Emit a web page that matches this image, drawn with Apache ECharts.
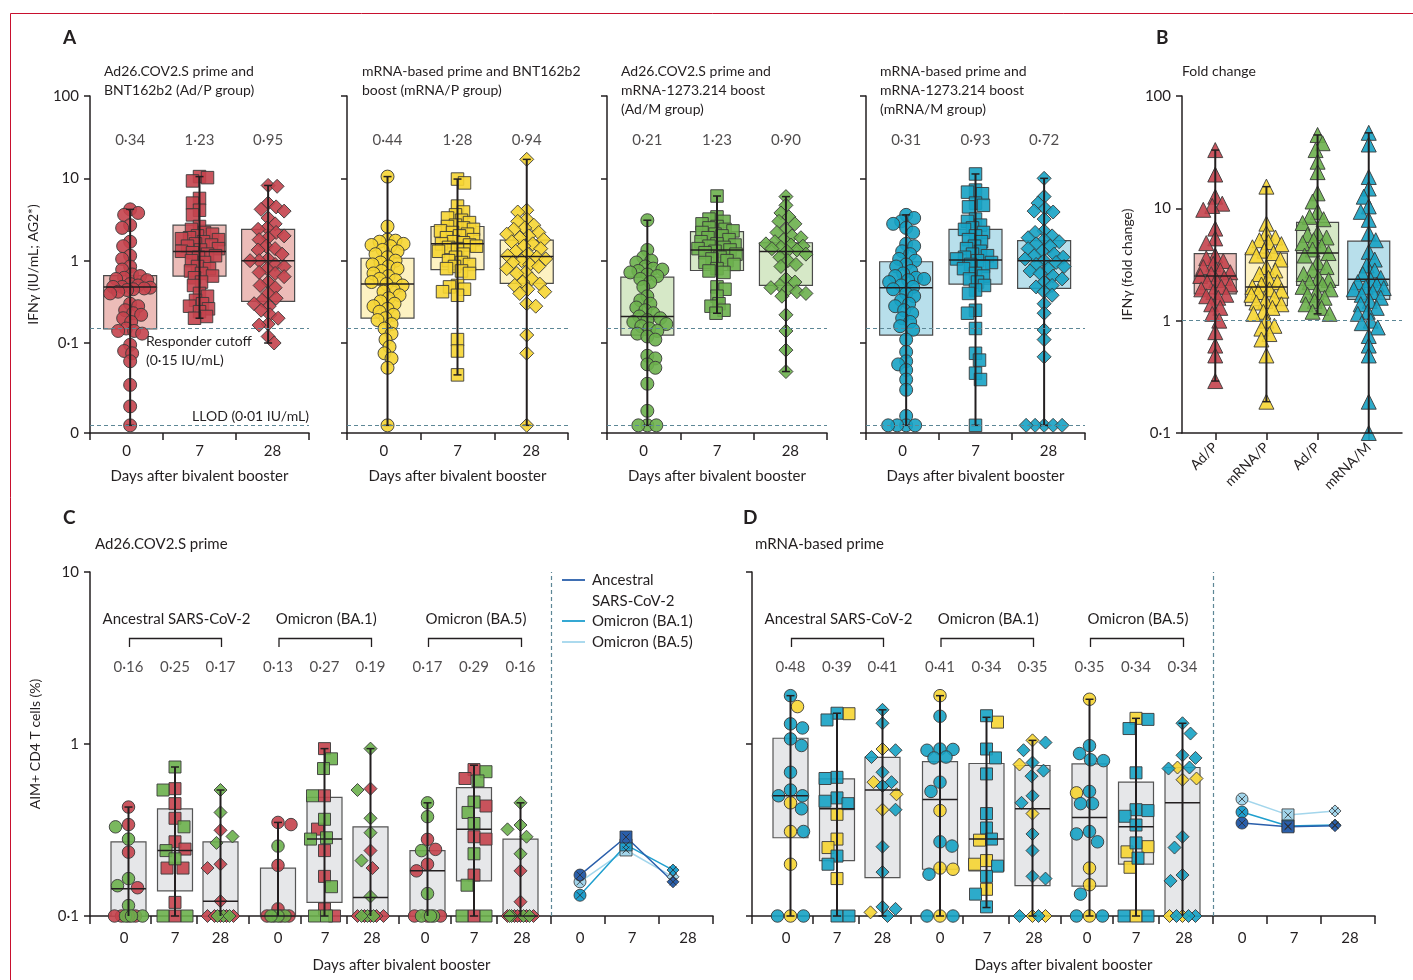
<!DOCTYPE html>
<html><head><meta charset="utf-8">
<script src="https://cdn.jsdelivr.net/npm/echarts@6/dist/echarts.min.js"></script>
<style>html,body{margin:0;padding:0;background:#fff}#c{width:1413px;height:980px}</style>
</head><body><div id="c"></div>
<script>
// ---------------- DATA ----------------
const days = ['0', '7', '28'];
// Panel A: IFN-gamma (IU/mL) per participant, days 0 / 7 / 28
const adP_d0 = [4.2,3.8,3.6,2.7,2.5,1.7,1.5,1.15,1.05,0.85,0.78,0.68,0.65,0.62,0.6,0.58,0.52,0.5,0.48,0.48,0.47,0.46,0.45,0.44,0.42,0.4,0.3,0.28,0.25,0.23,0.22,0.2,0.18,0.15,0.14,0.14,0.13,0.095,0.08,0.075,0.06,0.031,0.017,0.01];
const adP_d7 = [10.5,10.2,9.3,5.7,5.0,4.1,3.6,2.6,2.4,2.2,2.1,2.0,1.9,1.85,1.8,1.7,1.6,1.55,1.5,1.4,1.35,1.3,1.25,1.2,1.15,1.1,1.0,0.95,0.85,0.8,0.75,0.7,0.65,0.62,0.55,0.5,0.4,0.37,0.33,0.3,0.28,0.26,0.24,0.21,0.2];
const adP_d28 = [8.2,8.0,5.0,4.5,4.2,4.0,3.3,2.8,2.5,2.4,2.2,2.0,1.9,1.8,1.5,1.4,1.35,1.2,1.05,1.0,1.0,0.9,0.85,0.8,0.72,0.7,0.64,0.55,0.5,0.47,0.4,0.35,0.33,0.3,0.28,0.25,0.22,0.2,0.17,0.165,0.12,0.1];
const mrnaP_d0 = [10.5,2.6,1.8,1.75,1.7,1.6,1.55,1.5,1.35,1.3,1.2,1.1,1.0,0.95,0.9,0.85,0.8,0.75,0.7,0.65,0.6,0.58,0.55,0.52,0.5,0.45,0.42,0.38,0.35,0.32,0.3,0.28,0.26,0.24,0.22,0.2,0.19,0.17,0.15,0.13,0.11,0.09,0.075,0.065,0.05,0.01];
const mrnaP_d7 = [9.8,8.8,4.6,3.9,3.6,3.3,3.1,2.9,2.7,2.6,2.5,2.4,2.3,2.2,2.1,2.0,1.9,1.8,1.7,1.65,1.6,1.55,1.5,1.45,1.4,1.3,1.2,1.1,1.0,0.95,0.9,0.85,0.8,0.75,0.7,0.5,0.48,0.45,0.42,0.38,0.11,0.08,0.041];
const mrnaP_d28 = [17,4.1,3.9,3.2,3.0,2.7,2.5,2.4,2.2,2.1,2.0,1.9,1.8,1.7,1.6,1.5,1.4,1.3,1.2,1.15,1.1,1.05,1.0,0.95,0.9,0.85,0.8,0.72,0.7,0.6,0.55,0.52,0.5,0.45,0.42,0.4,0.3,0.28,0.125,0.075,0.01];
const adM_d0 = [3.1,1.35,1.1,1.0,0.95,0.85,0.8,0.78,0.75,0.72,0.68,0.65,0.6,0.55,0.48,0.37,0.33,0.3,0.27,0.25,0.23,0.21,0.2,0.19,0.18,0.17,0.16,0.15,0.14,0.13,0.12,0.11,0.07,0.065,0.055,0.05,0.032,0.015,0.01,0.01,0.01];
const adM_d7 = [6.1,3.4,3.2,3.0,2.8,2.6,2.5,2.4,2.3,2.2,2.1,2.0,1.9,1.8,1.7,1.6,1.55,1.5,1.45,1.4,1.35,1.3,1.25,1.2,1.1,1.05,1.0,0.95,0.9,0.8,0.75,0.72,0.48,0.45,0.37,0.3,0.28,0.25,0.23];
const adM_d28 = [6.0,4.7,3.8,3.4,3.0,2.8,2.4,2.2,2.0,1.9,1.8,1.7,1.6,1.55,1.5,1.45,1.4,1.35,1.3,1.2,1.1,1.0,0.9,0.85,0.6,0.55,0.5,0.47,0.45,0.42,0.4,0.37,0.22,0.14,0.082,0.045];
const mrnaM_d0 = [3.6,3.3,3.0,2.8,2.5,2.2,1.6,1.5,1.3,1.2,1.05,1.0,0.9,0.85,0.75,0.7,0.65,0.62,0.6,0.58,0.55,0.5,0.48,0.45,0.4,0.37,0.33,0.3,0.28,0.25,0.23,0.2,0.18,0.16,0.145,0.11,0.078,0.06,0.055,0.047,0.036,0.027,0.013,0.01,0.01,0.01,0.01];
const mrnaM_d7 = [11.3,7.2,6.8,6.5,5.0,4.7,4.5,3.2,3.0,2.7,2.5,2.4,2.2,2.0,1.8,1.7,1.5,1.4,1.3,1.2,1.15,1.1,1.05,1.0,0.95,0.9,0.85,0.8,0.7,0.65,0.6,0.55,0.5,0.44,0.4,0.25,0.23,0.15,0.075,0.062,0.043,0.036,0.01];
const mrnaM_d28 = [10,6.0,5.0,4.3,4.0,3.9,3.2,2.3,2.2,2.0,1.9,1.8,1.7,1.6,1.5,1.4,1.3,1.2,1.15,1.1,1.05,1.0,0.95,0.9,0.85,0.8,0.75,0.7,0.65,0.6,0.55,0.5,0.48,0.42,0.38,0.3,0.23,0.144,0.11,0.068,0.01,0.01,0.01,0.01,0.01];
// box stats [min, q1, median, q3, max]
const adP_box = [[0.01,0.148,0.48,0.66,4.2],[0.2,0.65,1.29,2.7,10.5],[0.1,0.32,1.0,2.4,8.2]];
const mrnaP_box = [[0.01,0.2,0.52,1.07,10.5],[0.041,0.78,1.6,2.6,9.8],[0.01,0.53,1.12,1.78,17]];
const adM_box = [[0.01,0.125,0.21,0.63,3.1],[0.23,0.76,1.35,2.25,6.1],[0.045,0.5,1.29,1.65,6.0]];
const mrnaM_box = [[0.01,0.125,0.47,0.97,3.6],[0.01,0.52,1.02,2.4,11.3],[0.01,0.46,1.0,1.75,10]];
const adP_med = [0.34, 1.23, 0.95];
const mrnaP_med = [0.44, 1.28, 0.94];
const adM_med = [0.21, 1.23, 0.90];
const mrnaM_med = [0.31, 0.93, 0.72];
const cutoff = 0.15, llod = 0.01;

// Panel B: fold change
const foldCats = ['Ad/P', 'mRNA/P', 'Ad/P', 'mRNA/M'];
const fold_adP = [33,20,12.7,11,10.5,9.7,6.6,5.4,4.9,3.8,3.6,3.4,3.2,3.0,2.8,2.7,2.6,2.5,2.4,2.3,2.2,2.1,2.0,1.9,1.8,1.7,1.65,1.6,1.4,1.3,1.15,1.0,0.79,0.6,0.49,0.29];
const fold_mrnaP = [15.6,7.3,6.0,5.5,5.2,5.0,4.8,4.5,4.2,4.0,3.8,3.5,3.0,2.8,2.6,2.4,2.2,2.1,2.0,1.9,1.85,1.8,1.7,1.6,1.5,1.45,1.4,1.3,1.2,1.15,1.0,0.9,0.85,0.76,0.68,0.49,0.19];
const fold_adM = [45,38,33,26,21,13.6,11.5,9.3,8.4,8.0,7.4,6.0,5.8,5.5,5.2,4.9,4.6,4.3,4.0,3.8,3.3,3.0,2.8,2.6,2.4,2.3,2.2,2.1,2.0,1.9,1.8,1.7,1.6,1.5,1.4,1.3,1.2,1.15];
const fold_mrnaM = [47,37,19,15,12.7,10.4,9.3,7.9,6.0,5.2,4.1,3.5,3.1,2.8,2.6,2.4,2.3,2.2,2.1,2.0,1.95,1.9,1.8,1.7,1.6,1.5,1.4,1.3,1.2,1.15,1.0,0.95,0.87,0.73,0.6,0.49,0.19,0.1];
const fold_box = [[0.29,1.73,2.5,3.96,33],[0.19,1.36,1.99,4.0,15.6],[1.15,2.06,4.0,7.5,45],[0.1,1.55,2.34,5.1,47]];

// Panels C/D: AIM+ CD4 T cells (%) per variant set, [day0, day7, day28]
const variantNames = ['Ancestral SARS-CoV-2', 'Omicron (BA.1)', 'Omicron (BA.5)'];
const c_anc_red = [[0.43,0.34,0.235,0.146,0.1,0.1,0.1,0.1],[0.55,0.45,0.37,0.27,0.245,0.19,0.19,0.12,0.1],[0.315,0.2,0.19,0.122,0.1,0.1,0.1,0.1,0.1]];
const c_anc_grn = [[0.33,0.28,0.165,0.15,0.115,0.1,0.1,0.1],[0.735,0.54,0.33,0.24,0.215,0.1,0.1],[0.54,0.40,0.29,0.266,0.1,0.1,0.1]];
const c_ba1_red = [[0.35,0.34,0.197,0.11,0.1,0.1,0.1],[0.94,0.5,0.32,0.24,0.17,0.11,0.1],[0.55,0.24,0.19,0.1,0.1,0.1,0.1,0.1]];
const c_ba1_grn = [[0.255,0.1,0.1,0.1,0.1],[0.82,0.72,0.5,0.365,0.285,0.28,0.148,0.1,0.1],[0.94,0.54,0.37,0.305,0.21,0.13,0.1,0.1,0.1]];
const c_ba5_red = [[0.279,0.244,0.2,0.183,0.1,0.1,0.1],[0.71,0.63,0.436,0.289,0.28,0.173,0.1],[0.183,0.121,0.1,0.1,0.1,0.1,0.1,0.1]];
const c_ba5_grn = [[0.455,0.378,0.24,0.135,0.1,0.1,0.1],[0.69,0.61,0.46,0.40,0.345,0.23,0.151,0.1,0.1],[0.455,0.338,0.319,0.289,0.23,0.1,0.1,0.1,0.1]];
const c_box = [[0.1,0.1,0.144,0.27,0.43],[0.1,0.14,0.24,0.42,0.735],[0.1,0.1,0.122,0.27,0.54],[0.1,0.1,0.1,0.19,0.35],[0.1,0.12,0.28,0.49,0.94],[0.1,0.1,0.128,0.33,0.94],[0.1,0.1,0.183,0.24,0.455],[0.1,0.16,0.319,0.557,0.753],[0.1,0.1,0.1,0.28,0.455]];
const c_med = [0.16,0.25,0.17,0.13,0.27,0.19,0.17,0.29,0.16];
const c_mean_anc = [0.173,0.288,0.158];
const c_mean_ba1 = [0.132,0.259,0.185];
const c_mean_ba5 = [0.158,0.242,0.169];

const d_anc_teal = [[1.91,1.31,1.24,1.07,0.98,0.685,0.54,0.5,0.5,0.42,0.31,0.1,0.1],[1.51,1.38,0.64,0.63,0.486,0.465,0.45,0.223,0.2,0.1,0.1],[1.58,1.32,0.92,0.84,0.685,0.6,0.57,0.415,0.253,0.18,0.113,0.11,0.1]];
const d_anc_yel = [[1.65,0.455,0.31,0.2,0.1],[1.5,0.39,0.28,0.25,0.165],[0.935,0.6,0.51,0.415,0.105]];
const d_ba1_teal = [[1.45,0.935,0.93,0.92,0.84,0.83,0.6,0.53,0.27,0.255,0.175,0.1,0.1],[1.46,0.935,0.83,0.67,0.394,0.325,0.28,0.195,0.17,0.134,0.113],[1.02,0.92,0.78,0.7,0.65,0.5,0.455,0.3,0.24,0.17,0.165,0.1,0.1]];
const d_ba1_yel = [[1.91,0.41,0.19,0.187,0.1],[1.34,0.276,0.21,0.2,0.143],[1.05,0.76,0.394,0.1,0.1]];
const d_ba5_teal = [[0.978,0.88,0.81,0.8,0.53,0.45,0.45,0.31,0.3,0.27,0.134,0.1,0.1],[1.39,1.23,0.68,0.415,0.41,0.38,0.338,0.266,0.217,0.1,0.1],[1.32,1.15,0.86,0.83,0.73,0.72,0.289,0.25,0.173,0.16,0.1,0.1,0.1]];
const d_ba5_yel = [[1.82,0.52,0.19,0.152,0.1],[1.41,0.253,0.236,0.192,0.1],[0.73,0.63,0.62,0.1,0.1]];
const d_box = [[0.1,0.285,0.50,1.08,1.91],[0.1,0.21,0.42,0.627,1.51],[0.1,0.167,0.54,0.837,1.58],[0.1,0.187,0.475,0.79,1.91],[0.112,0.183,0.28,0.77,1.43],[0.1,0.15,0.42,0.75,1.05],[0.1,0.149,0.374,0.766,1.82],[0.1,0.2,0.33,0.6,1.41],[0.1,0.1,0.455,0.73,1.32]];
const d_med = [0.48,0.39,0.41,0.41,0.34,0.35,0.35,0.34,0.34];
const d_mean_anc = [0.347,0.330,0.335];
const d_mean_ba1 = [0.402,0.334,0.338];
const d_mean_ba5 = [0.479,0.387,0.408];

// ---------------- STYLE / LAYOUT ----------------
const FONT = 'Lato';
const TXT = '#231f20';
const DASH = '#5d8796';
const PT_BORDER = '#3a3a3a';
const RED = '#c4424c', RED_BOX = '#ecbcb8';
const YEL = '#f6d532', YEL_BOX = '#fdf2c2';
const GRN = '#6cb04d', GRN_BOX = '#d6e8c7';
const TEAL = '#16a2c4', TEAL_BOX = '#b8dfeb';
const GRAY_BOX = '#e6e7e9';
const C_ANC = '#2a5fab', C_BA1 = '#1f9fce', C_BA5 = '#a3d6ec';
const SYMS = ['circle', 'rect', 'diamond'];
const L10 = v => Math.log10(v);
const dot = v => v.toFixed(2).replace('.', '\u00b7');

const A_YMIN = -2.093;
const metaA = [
  {left: 90, width: 219}, {left: 347, width: 221}, {left: 607, width: 220}, {left: 866, width: 219}
].map(m => Object.assign(m, {top: 96, height: 337, xmin: -0.5, xmax: 2.5, ymin: A_YMIN, ymax: 2}));
const metaB = {left: 1182, width: 220, top: 96, height: 337, xmin: -0.65, xmax: 3.65, ymin: -1, ymax: 2};
const metaC = {left: 90, width: 623, top: 572, height: 344, xmin: 0, xmax: 623, ymin: -1, ymax: 1};
const metaD = {left: 752, width: 623, top: 572, height: 344, xmin: 0, xmax: 623, ymin: -1, ymax: 1};
const aPos = [0.05, 1, 1.94];
const cdPos = [38.5, 85, 130.5, 188, 234.5, 280.5, 337.5, 384, 430.5];
const cdMeanPos = [490, 536, 583];
const cdTicks = [0, 61, 107, 159, 211, 257, 309, 361, 407, 461, 515, 569, 623];
const cdLabelPos = [34, 85, 130.5, 188, 235, 282, 335, 384, 432, 490, 542, 598];
const cdSep = 461;

function yPx(m, v) { return m.top + m.height * (m.ymax - v) / (m.ymax - m.ymin); }

// beeswarm layout (pixel space) -> x offsets
function swarm(ys, maxOff, d) {
  const idx = ys.map((y, i) => i).sort((a, b) => ys[a] - ys[b]);
  const off = new Array(ys.length).fill(0);
  const placed = [];
  idx.forEach((i, k) => {
    const y = ys[i];
    let best = 0, bestD = -1, found = false;
    for (let s = 0; s <= maxOff && !found; s += 1) {
      const signs = s === 0 ? [1] : (k % 2 ? [1, -1] : [-1, 1]);
      for (const sg of signs) {
        const o = s * sg;
        let mn = Infinity;
        for (const p of placed) {
          const dy = p[1] - y;
          if (Math.abs(dy) >= d) continue;
          const dd = Math.hypot(p[0] - o, dy);
          if (dd < mn) mn = dd;
        }
        if (mn >= d) { best = o; found = true; break; }
        if (mn > bestD) { bestD = mn; best = o; }
      }
    }
    off[i] = best;
    placed.push([best, y]);
  });
  return off;
}

const series = [];
const grids = [], xAxes = [], yAxes = [];
const axisLine = {show: true, onZero: false, lineStyle: {color: TXT, width: 1.5}};
const tickStyle = {color: TXT, width: 1.5};

// add scatter points of one group (several colours share one swarm)
function addPoints(gi, m, pos, groups, sym, size, maxOff, fac) {
  const items = [];
  groups.forEach(g => g.vals.forEach(v => items.push({v: L10(v), color: g.color})));
  const ys = items.map(it => yPx(m, it.v));
  const offs = swarm(ys, maxOff, size * fac);
  const ppu = m.width / (m.xmax - m.xmin);
  groups.forEach(g => {
    const data = [];
    items.forEach((it, i) => { if (it.color === g.color) data.push([pos + offs[i] / ppu, it.v]); });
    series.push({
      type: 'scatter', xAxisIndex: gi, yAxisIndex: gi, symbol: sym, symbolSize: size,
      data, clip: false, silent: true, z: 3,
      itemStyle: {color: g.color, borderColor: PT_BORDER, borderWidth: 1, opacity: 0.9}
    });
  });
}

function addBoxes(gi, positions, stats, fills, widthPx, stroke) {
  const data = stats.map((s, i) => [positions[i]].concat(s.map(L10)));
  series.push({
    type: 'custom', xAxisIndex: gi, yAxisIndex: gi, z: 1, silent: true, clip: false,
    data, encode: {x: 0, y: [1, 2, 3, 4, 5]},
    renderItem(params, api) {
      const x = api.value(0);
      const q1 = api.coord([x, api.value(2)]), q3 = api.coord([x, api.value(4)]);
      return {type: 'rect', shape: {x: q1[0] - widthPx / 2, y: q3[1], width: widthPx, height: q1[1] - q3[1]},
        style: {fill: fills[params.dataIndex], stroke: stroke, lineWidth: 1.2}};
    }
  });
  series.push({
    type: 'custom', xAxisIndex: gi, yAxisIndex: gi, z: 4, silent: true, clip: false,
    data, encode: {x: 0, y: [1, 2, 3, 4, 5]},
    renderItem(params, api) {
      const x = api.value(0);
      const p = [1, 2, 3, 4, 5].map(i => api.coord([x, api.value(i)]));
      const cx = p[0][0];
      const ch = [];
      if (p[0][1] - p[4][1] > 0.5) {
        ch.push({type: 'line', shape: {x1: cx, y1: p[4][1], x2: cx, y2: p[0][1]}, style: {stroke: TXT, lineWidth: 2}});
      }
      if (p[0][1] - p[1][1] > 0.5) {
        ch.push({type: 'line', shape: {x1: cx - 4, y1: p[0][1], x2: cx + 4, y2: p[0][1]}, style: {stroke: TXT, lineWidth: 1.5}});
      }
      if (p[3][1] - p[4][1] > 0.5) {
        ch.push({type: 'line', shape: {x1: cx - 4, y1: p[4][1], x2: cx + 4, y2: p[4][1]}, style: {stroke: TXT, lineWidth: 1.5}});
      }
      ch.push({type: 'line', shape: {x1: cx - widthPx / 2, y1: p[2][1], x2: cx + widthPx / 2, y2: p[2][1]}, style: {stroke: TXT, lineWidth: 1.5}});
      return {type: 'group', children: ch};
    }
  });
}

function addLabels(gi, positions, values, yLog) {
  series.push({
    type: 'scatter', xAxisIndex: gi, yAxisIndex: gi, symbolSize: 0, silent: true, z: 5, clip: false,
    data: values.map((v, i) => [positions[i], yLog, v]),
    label: {show: true, position: 'inside', formatter: p => dot(p.value[2]), fontSize: 15, color: TXT, fontFamily: FONT}
  });
}

function dashMarkLine(items) {
  return {symbol: ['none', 'none'], silent: true, label: {show: false},
    lineStyle: {type: [4, 3], color: DASH, width: 1.2}, data: items};
}

// ---------- Panel A ----------
const aGroups = [
  {d: [adP_d0, adP_d7, adP_d28], box: adP_box, med: adP_med, color: RED, fill: RED_BOX},
  {d: [mrnaP_d0, mrnaP_d7, mrnaP_d28], box: mrnaP_box, med: mrnaP_med, color: YEL, fill: YEL_BOX},
  {d: [adM_d0, adM_d7, adM_d28], box: adM_box, med: adM_med, color: GRN, fill: GRN_BOX},
  {d: [mrnaM_d0, mrnaM_d7, mrnaM_d28], box: mrnaM_box, med: mrnaM_med, color: TEAL, fill: TEAL_BOX}
];
const aYLabel = v => (v < -1.5 ? '0' : ({'-1': '0\u00b71', '0': '1', '1': '10', '2': '100'})[Math.round(v)]);
metaA.forEach((m, i) => {
  grids.push({left: m.left, top: m.top, width: m.width, height: m.height});
  xAxes.push({gridIndex: i, type: 'value', min: m.xmin, max: m.xmax,
    axisLine, axisTick: {show: true, customValues: [-0.5, 0.5, 1.5, 2.5], length: 7, lineStyle: tickStyle},
    axisLabel: {customValues: [0, 1, 2], formatter: v => days[Math.round(v)], margin: 11, fontSize: 15, color: TXT},
    splitLine: {show: false}, name: 'Days after bivalent booster', nameLocation: 'middle', nameGap: 36,
    nameTextStyle: {fontSize: 15, color: TXT}});
  yAxes.push({gridIndex: i, type: 'value', min: m.ymin, max: m.ymax,
    axisLine, axisTick: {show: true, customValues: [A_YMIN, -1, 0, 1, 2], length: 6, lineStyle: tickStyle},
    axisLabel: {show: i === 0, customValues: [A_YMIN, -1, 0, 1, 2], formatter: aYLabel, margin: 11, fontSize: 15, color: TXT},
    splitLine: {show: false}, name: i === 0 ? 'IFN\u03b3 (IU/mL; AG2*)' : '', nameLocation: 'middle', nameGap: 50,
    nameTextStyle: {fontSize: 14, color: TXT}});
  const g = aGroups[i];
  addBoxes(i, aPos, g.box, [g.fill, g.fill, g.fill], 53, '#4a4a4a');
  g.d.forEach((vals, k) => addPoints(i, m, aPos[k], [{vals, color: g.color}], SYMS[k],
    k === 0 ? 13 : (k === 1 ? 12.5 : 14), k === 1 ? 19 : 20, 0.62));
  series[series.length - 1].markLine = dashMarkLine([{yAxis: L10(cutoff)}, {yAxis: L10(llod)}]);
  addLabels(i, aPos, g.med, 1.466);
});

// ---------- Panel B ----------
{
  const gi = grids.length;
  const m = metaB;
  grids.push({left: m.left, top: m.top, width: m.width, height: m.height});
  xAxes.push({gridIndex: gi, type: 'value', min: m.xmin, max: m.xmax, axisLine,
    axisTick: {show: true, customValues: [0, 1, 2, 3], length: 7, lineStyle: tickStyle},
    axisLabel: {customValues: [0, 1, 2, 3], formatter: v => foldCats[Math.round(v)], rotate: 45, margin: 12, fontSize: 14, color: TXT},
    splitLine: {show: false}});
  yAxes.push({gridIndex: gi, type: 'value', min: -1, max: 2, axisLine,
    axisTick: {show: true, customValues: [-1, 0, 1, 2], length: 6, lineStyle: tickStyle},
    axisLabel: {customValues: [-1, 0, 1, 2], formatter: v => ({'-1': '0\u00b71', '0': '1', '1': '10', '2': '100'})[Math.round(v)], margin: 11, fontSize: 15, color: TXT},
    splitLine: {show: false}, name: 'IFN\u03b3 (fold change)', nameLocation: 'middle', nameGap: 48,
    nameTextStyle: {fontSize: 14, color: TXT}});
  const bPos = [0, 1, 2, 3];
  addBoxes(gi, bPos, fold_box, [RED_BOX, YEL_BOX, GRN_BOX, TEAL_BOX], 42, '#4a4a4a');
  [[fold_adP, RED], [fold_mrnaP, YEL], [fold_adM, GRN], [fold_mrnaM, TEAL]].forEach((g, k) =>
    addPoints(gi, m, bPos[k], [{vals: g[0], color: g[1]}], 'triangle', 15, 15, 0.62));
  series[series.length - 1].markLine = dashMarkLine([{yAxis: 0}]);
}

// ---------- Panels C & D ----------
function buildCD(m, sets, colors, boxes, meds, means, showYLabels, yName) {
  const gi = grids.length;
  grids.push({left: m.left, top: m.top, width: m.width, height: m.height});
  xAxes.push({gridIndex: gi, type: 'value', min: m.xmin, max: m.xmax, axisLine,
    axisTick: {show: true, customValues: cdTicks, length: 8, lineStyle: tickStyle},
    axisLabel: {customValues: cdLabelPos, formatter: v => days[cdLabelPos.indexOf(v) % 3], margin: 15, fontSize: 15, color: TXT},
    splitLine: {show: false}, name: 'Days after bivalent booster', nameLocation: 'middle', nameGap: 42,
    nameTextStyle: {fontSize: 15, color: TXT}});
  yAxes.push({gridIndex: gi, type: 'value', min: -1, max: 1, axisLine,
    axisTick: {show: true, customValues: [-1, 0, 1], length: 6, lineStyle: tickStyle},
    axisLabel: {show: showYLabels, customValues: [-1, 0, 1], formatter: v => ({'-1': '0\u00b71', '0': '1', '1': '10'})[Math.round(v)], margin: 11, fontSize: 15, color: TXT},
    splitLine: {show: false}, name: yName, nameLocation: 'middle', nameGap: 48,
    nameTextStyle: {fontSize: 14, color: TXT}});
  addBoxes(gi, cdPos, boxes, boxes.map(() => GRAY_BOX), 35, '#555');
  sets.forEach((set, s) => {
    for (let k = 0; k < 3; k++) {
      addPoints(gi, m, cdPos[s * 3 + k],
        [{vals: set[0][k], color: colors[0]}, {vals: set[1][k], color: colors[1]}],
        SYMS[k], k === 0 ? 12.5 : (k === 1 ? 12 : 13), 14, 1.0);
    }
  });
  series[series.length - 1].markLine = dashMarkLine([{xAxis: cdSep}]);
  addLabels(gi, cdPos, meds, 0.448);
  // means (right section)
  [[means[2], C_BA5], [means[1], C_BA1], [means[0], C_ANC]].forEach(([vals, col]) => {
    series.push({type: 'line', xAxisIndex: gi, yAxisIndex: gi, z: 5, silent: true, showAllSymbol: true,
      symbolSize: 12, lineStyle: {color: col, width: 1.5},
      itemStyle: {color: col, borderColor: '#333', borderWidth: 0.8},
      data: vals.map((v, i) => ({value: [cdMeanPos[i], L10(v)], symbol: SYMS[i]}))});
    series.push({type: 'scatter', xAxisIndex: gi, yAxisIndex: gi, z: 6, silent: true,
      symbol: 'path://M0 0L10 10M10 0L0 10', symbolSize: 7,
      itemStyle: {color: 'none', borderColor: '#2a2a2a', borderWidth: 1},
      data: vals.map((v, i) => [cdMeanPos[i], L10(v)])});
  });
}
buildCD(metaC, [[c_anc_red, c_anc_grn], [c_ba1_red, c_ba1_grn], [c_ba5_red, c_ba5_grn]], [RED, GRN],
  c_box, c_med, [c_mean_anc, c_mean_ba1, c_mean_ba5], true, 'AIM+ CD4 T cells (%)');
buildCD(metaD, [[d_anc_yel, d_anc_teal], [d_ba1_yel, d_ba1_teal], [d_ba5_yel, d_ba5_teal]], [YEL, TEAL],
  d_box, d_med, [d_mean_anc, d_mean_ba1, d_mean_ba5], false, '');

// ---------- Graphic annotations ----------
const tstyle = (text, x, y, extra) => ({type: 'text', x, y, silent: true,
  style: Object.assign({text, fill: TXT, fontFamily: FONT, fontSize: 14, lineHeight: 19, textVerticalAlign: 'top'}, extra || {})});
const graphic = [
  {type: 'rect', shape: {x: 10.5, y: 13.5, width: 1440, height: 1000}, style: {fill: 'none', stroke: '#c8102e', lineWidth: 1}, silent: true},
  tstyle('A', 63, 28, {fontSize: 19, fontWeight: 'bold'}),
  tstyle('B', 1156, 28, {fontSize: 19, fontWeight: 'bold'}),
  tstyle('C', 63, 508, {fontSize: 19, fontWeight: 'bold'}),
  tstyle('D', 743, 508, {fontSize: 19, fontWeight: 'bold'}),
  tstyle('Ad26.COV2.S prime and\nBNT162b2 (Ad/P group)', 104, 62),
  tstyle('mRNA-based prime and BNT162b2\nboost (mRNA/P group)', 362, 62),
  tstyle('Ad26.COV2.S prime and\nmRNA-1273.214 boost\n(Ad/M group)', 621, 62),
  tstyle('mRNA-based prime and\nmRNA-1273.214 boost\n(mRNA/M group)', 880, 62),
  tstyle('Fold change', 1182, 62),
  tstyle('Responder cutoff\n(0\u00b715 IU/mL)', 146, 332),
  tstyle('LLOD (0\u00b701 IU/mL)', 309, 407, {textAlign: 'right'}),
  tstyle('Ad26.COV2.S prime', 95, 535, {fontSize: 15}),
  tstyle('mRNA-based prime', 755, 535, {fontSize: 15})
];
[metaC, metaD].forEach(m => {
  for (let s = 0; s < 3; s++) {
    const x0 = m.left + cdPos[s * 3], x1 = m.left + cdPos[s * 3 + 2];
    graphic.push(tstyle(variantNames[s], (x0 + x1) / 2 + 2, 610, {fontSize: 15, textAlign: 'center'}));
    graphic.push({type: 'polyline', silent: true, shape: {points: [[x0 + 1, 647], [x0 + 1, 638.5], [x1 + 1, 638.5], [x1 + 1, 647]]},
      style: {stroke: TXT, lineWidth: 1.3, fill: 'none'}});
  }
});
[[C_ANC, 580, 'Ancestral'], [C_BA1, 621, 'Omicron (BA.1)'], [C_BA5, 642, 'Omicron (BA.5)']].forEach(([col, y, t]) => {
  graphic.push({type: 'line', silent: true, shape: {x1: 562, y1: y, x2: 585, y2: y}, style: {stroke: col, lineWidth: 1.8}});
  graphic.push(tstyle(t, 592, y - 9, {fontSize: 15}));
});
graphic.push(tstyle('SARS-CoV-2', 592, 592, {fontSize: 15}));

const chart = echarts.init(document.getElementById('c'), null, {renderer: 'canvas'});
chart.setOption({
  animation: false,
  backgroundColor: '#fff',
  textStyle: {fontFamily: FONT, color: TXT},
  grid: grids, xAxis: xAxes, yAxis: yAxes, series, graphic
});
</script></body></html>
